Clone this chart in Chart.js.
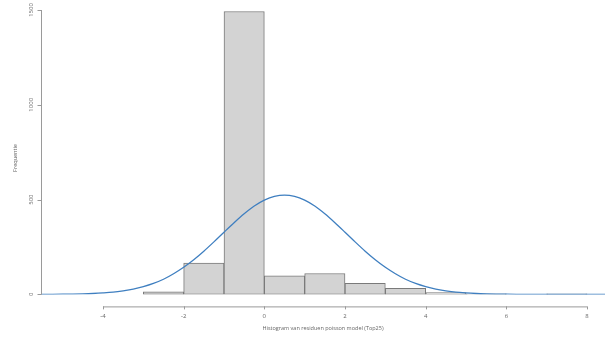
<!DOCTYPE html>
<html>
<head>
<meta charset="utf-8">
<script src="https://cdn.jsdelivr.net/npm/chart.js@4.4.0/dist/chart.umd.min.js"></script>
<style>
  html, body { margin: 0; padding: 0; background: #fff; }
  #wrap { width: 613px; height: 338px; }
</style>
</head>
<body>
<div id="wrap"><canvas id="hist"></canvas></div>
<script>
// histogram bins (midpoints) and counts
const binMids = [-2.5, -1.5, -0.5, 0.5, 1.5, 2.5, 3.5, 4.5, 5.5, 6.5, 7.5];
const binCounts = [14, 165, 1492, 98, 110, 58, 32, 10, 3, 0, 3];

// blue density curve, read at 0.25 steps
const curveX = [-5.75, -5.5, -5.25, -5, -4.75, -4.5, -4.25, -4, -3.75, -3.5, -3.25, -3, -2.75, -2.5, -2.25, -2, -1.75, -1.5, -1.25, -1, -0.75, -0.5, -0.25, 0, 0.25, 0.5, 0.75, 1, 1.25, 1.5, 1.75, 2, 2.25, 2.5, 2.75, 3, 3.25, 3.5, 3.75, 4, 4.25, 4.5, 4.75, 5, 5.25, 5.5, 5.75, 6, 6.25, 6.5, 6.75, 7, 7.25, 7.5, 7.75, 8, 8.25, 8.5];
const curveY = [0.2, 0.3, 0.5, 1, 1.7, 2.9, 4.8, 7.8, 12, 19, 28, 41, 58, 80, 109, 143, 183, 228, 277, 328, 378, 425, 466, 497, 517, 524, 517, 497, 466, 425, 378, 328, 277, 228, 183, 143, 109, 80, 58, 41, 28, 19, 12, 7.8, 4.8, 2.9, 1.7, 1, 0.5, 0.3, 0.15, 0.08, 0.04, 0.02, 0.01, 0, 0, 0];

const xTicks = [-4, -2, 0, 2, 4, 6, 8];
const yTicks = [0, 500, 1000, 1500];

const xTitle = "Histogram van residuen poisson model (Top25)";
const yTitle = "Frequentie";

const axisColor = "#9a9a9a";
const textColor = "#666";
const fontFam = "'Open Sans', sans-serif";

// R style axes, drawn with the chart's own scales
const rAxes = {
  id: "rAxes",
  afterDraw(chart) {
    const ctx = chart.ctx;
    const xs = chart.scales.x, ys = chart.scales.y;
    const area = chart.chartArea;
    ctx.save();
    ctx.strokeStyle = axisColor;
    ctx.lineWidth = 1;
    ctx.fillStyle = textColor;
    ctx.font = "6px " + fontFam;

    // x axis
    const ay = area.bottom + 12;
    ctx.beginPath();
    ctx.moveTo(xs.getPixelForValue(xTicks[0]), ay + 0.5);
    ctx.lineTo(xs.getPixelForValue(xTicks[xTicks.length - 1]), ay + 0.5);
    xTicks.forEach(t => {
      const px = Math.round(xs.getPixelForValue(t)) + 0.5;
      ctx.moveTo(px, ay);
      ctx.lineTo(px, ay + 3);
    });
    ctx.stroke();
    ctx.textAlign = "center";
    ctx.textBaseline = "middle";
    xTicks.forEach(t => ctx.fillText(String(t).replace("-", "-"), xs.getPixelForValue(t), ay + 10));

    ctx.font = "5.5px " + fontFam;
    ctx.fillText(xTitle, (area.left + area.right) / 2, ay + 22);

    // y axis
    const ax = Math.round(area.left) + 0.5;
    ctx.beginPath();
    ctx.moveTo(ax, ys.getPixelForValue(yTicks[0]));
    ctx.lineTo(ax, ys.getPixelForValue(yTicks[yTicks.length - 1]));
    yTicks.forEach(t => {
      const py = Math.round(ys.getPixelForValue(t)) + 0.5;
      ctx.moveTo(ax, py);
      ctx.lineTo(ax - 4, py);
    });
    ctx.stroke();
    ctx.font = "6px " + fontFam;
    yTicks.forEach(t => {
      ctx.save();
      ctx.translate(ax - 10, ys.getPixelForValue(t));
      ctx.rotate(-Math.PI / 2);
      ctx.fillText(String(t), 0, 0);
      ctx.restore();
    });
    ctx.save();
    ctx.font = "5.5px " + fontFam;
    ctx.translate(15, 158);
    ctx.rotate(-Math.PI / 2);
    ctx.fillText(yTitle, 0, 0);
    ctx.restore();

    ctx.restore();
  }
};

new Chart(document.getElementById("hist"), {
  type: "bar",
  data: {
    datasets: [
      {
        type: "line",
        data: curveX.map((x, i) => ({ x: x, y: curveY[i] })),
        borderColor: "#3f7fc0",
        borderWidth: 1.3,
        pointRadius: 0,
        tension: 0.4,
        cubicInterpolationMode: "monotone",
        fill: false,
        order: 0
      },
      {
        type: "bar",
        data: binMids.map((x, i) => ({ x: x, y: binCounts[i] })),
        backgroundColor: "#d3d3d3",
        borderColor: "#7a7a7a",
        borderWidth: 1,
        borderSkipped: false,
        barPercentage: 1,
        categoryPercentage: 1,
        order: 1
      }
    ]
  },
  options: {
    responsive: true,
    maintainAspectRatio: false,
    animation: false,
    layout: { padding: { left: 41, right: 8, top: 10, bottom: 43.6 } },
    plugins: { legend: { display: false }, tooltip: { enabled: false } },
    scales: {
      x: { type: "linear", min: -5.537, max: 8.446, offset: false, display: false },
      y: { min: 0, max: 1500, display: false }
    }
  },
  plugins: [rAxes]
});
</script>
</body>
</html>
